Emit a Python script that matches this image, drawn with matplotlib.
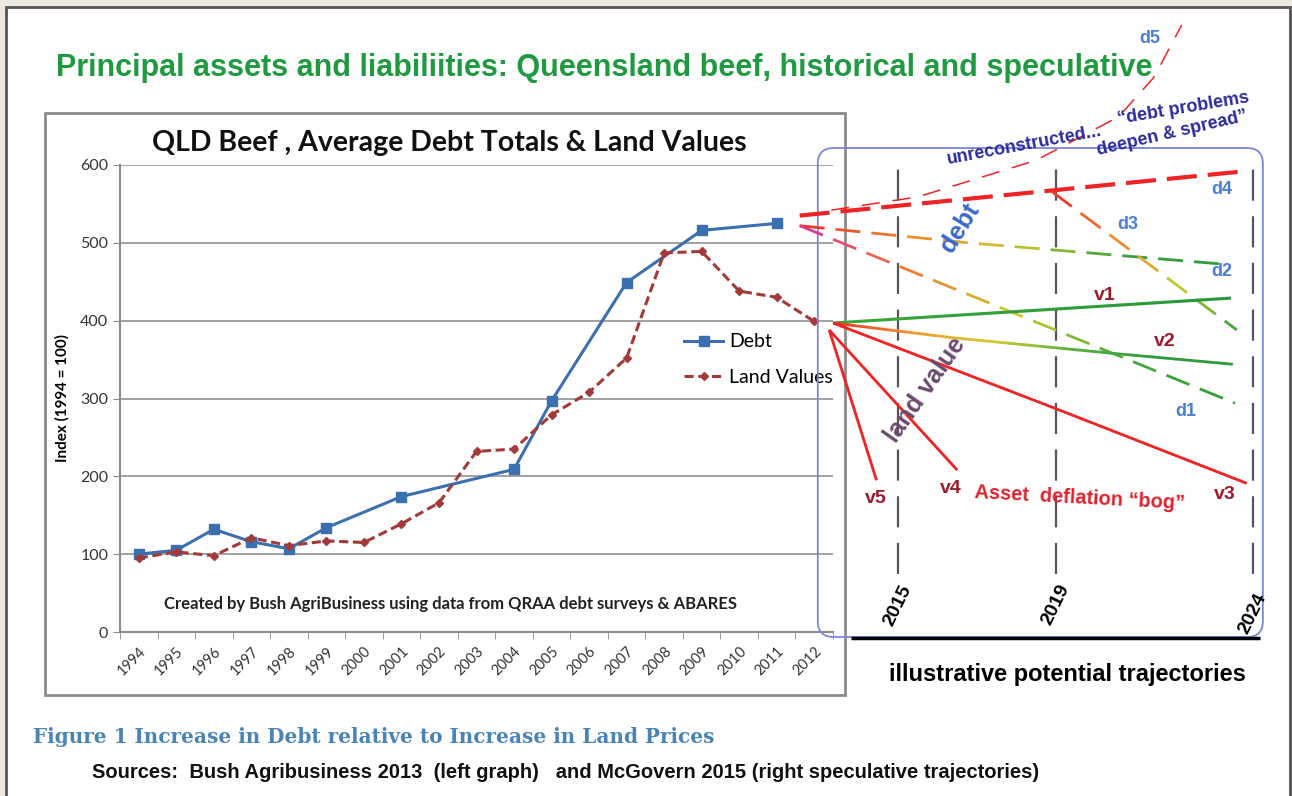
import numpy as np
import matplotlib
matplotlib.use('Agg')
from matplotlib import pyplot as plt
from matplotlib.patches import Rectangle, FancyBboxPatch
from matplotlib.collections import LineCollection
from matplotlib.colors import LinearSegmentedColormap

# historical data (index, 1994 = 100)
anios = [str(a) for a in range(1994, 2013)]
deuda_anios = [1994, 1995, 1996, 1997, 1998, 1999, 2001, 2004, 2005, 2007, 2009, 2011]
deuda = [100, 105, 132, 116, 107, 134, 174, 209, 297, 449, 516, 525]
tierra_anios = list(range(1994, 2013))
tierra = [95, 103, 98, 121, 111, 117, 115, 139, 166, 232, 235, 279, 308, 352, 487,
          489, 438, 430, 399]

# speculative trajectories (year, index)
d1 = ([2012.5, 2023.55], [522, 294])
d2 = ([2012.5, 2016.8, 2023.4], [522, 500, 472])
d3 = ([2018.9, 2023.6], [566, 388])
d4 = ([2012.5, 2023.8], [535, 592])
d5 = ([2013.3, 2015.5, 2018.5, 2020.6, 2021.5, 2022.2], [542, 559, 606, 662, 713, 780])
v1 = ([2013.35, 2023.45], [397, 429])
v2 = ([2013.35, 2016.4, 2020.45, 2023.5], [397, 378, 358, 344])
v3 = ([2013.35, 2018.9, 2023.85], [397, 289, 191])
v4 = ([2013.25, 2016.5], [388, 208])
v5 = ([2013.25, 2014.45], [388, 195])
anios_ref = [2015, 2019, 2024]

W, H = 1292, 796
def fx(px):
  return px / W
def fy(py):
  return 1 - py / H

fig = plt.figure(figsize=(W/100, H/100), dpi=100, facecolor='#ece8e0')

# white page with dark border
fig.patches.append(Rectangle((fx(6), -0.05), fx(1290) - fx(6), fy(7) + 0.05,
                             transform=fig.transFigure, facecolor='white',
                             edgecolor='#555555', lw=2, zorder=-10))
# frame of the excel chart
fig.patches.append(Rectangle((fx(45), fy(695)), fx(845) - fx(45), fy(113) - fy(695),
                             transform=fig.transFigure, facecolor='white',
                             edgecolor='#8c8c8c', lw=2, zorder=-9))

fig.text(fx(604), fy(68), 'Principal assets and liabiliities: Queensland beef, historical and speculative',
         ha='center', va='center', fontsize=22, fontweight='bold', color='#1f9a40',
         family='Liberation Sans')
fig.text(fx(449), fy(143), 'QLD Beef , Average Debt Totals & Land Values', ha='center',
         va='center', fontsize=20.5, fontweight='bold', color='#111111', family='Lato')
fig.text(fx(62), fy(398), 'Index (1994 = 100)', rotation=90, ha='center', va='center',
         fontsize=11, fontweight='bold', family='Lato')
fig.text(fx(33), fy(737), 'Figure 1 Increase in Debt relative to Increase in Land Prices',
         ha='left', va='center', fontsize=14.4, fontweight='bold', color='#4a84b6',
         family='DejaVu Serif')
fig.text(fx(92), fy(773), 'Sources:  Bush Agribusiness 2013  (left graph)   and McGovern 2015 (right speculative trajectories)',
         ha='left', va='center', fontsize=14.5, fontweight='bold', color='#111111',
         family='Liberation Sans')

# ---- left chart ----
ax = fig.add_axes([fx(120), fy(632), (833 - 120) / W, (632 - 165) / H])
ax.set_facecolor('none')
pos = {a: i for i, a in enumerate(range(1994, 2013))}
ax.plot([pos[a] for a in deuda_anios], deuda, color='#3c6fb0', lw=2.2, marker='s', ms=6.5,
        label='Debt', zorder=3)
ax.plot([pos[a] for a in tierra_anios], tierra, color='#a33a3a', lw=2.2, ls=(0, (3, 1.5)),
        marker='D', ms=4.5, label='Land Values', zorder=3)
ax.set_xlim(-0.5, len(anios) - 0.5)
ax.set_ylim(0, 600)
ax.set_yticks(range(0, 601, 100))
ax.yaxis.grid(True, color='#9a9a9a', lw=1.3)
ax.set_axisbelow(True)
ax.set_xticks(range(len(anios)))
ax.set_xticklabels(anios, rotation=45, ha='right', rotation_mode='anchor', fontsize=10.5,
                   family='Lato', color='#333333')
ax.set_xticks(np.arange(-0.5, len(anios), 1), minor=True)
ax.tick_params(axis='x', which='major', length=0, pad=9)
ax.tick_params(axis='x', which='minor', length=5, color='#8c8c8c')
ax.tick_params(axis='y', length=5, color='#8c8c8c', labelsize=11.5, labelcolor='#333333')
for t in ax.get_yticklabels():
  t.set_family('Lato')
for s in ['top', 'right']:
  ax.spines[s].set_visible(False)
for s in ['left', 'bottom']:
  ax.spines[s].set_color('#8c8c8c')
  ax.spines[s].set_linewidth(1.5)
ax.legend(loc='upper left', bbox_to_anchor=(0.767, 0.677), frameon=False,
          prop={'family': 'Lato', 'size': 14}, handlelength=2.0, handletextpad=0.3,
          labelspacing=0.95)
ax.text(0.463, 0.06, 'Created by Bush AgriBusiness using data from QRAA debt surveys & ABARES',
        transform=ax.transAxes, ha='center', va='center', fontsize=12, fontweight='bold',
        family='Lato', color='#222222')

# ---- right speculative part ----
k = 600 / 467
ax2 = fig.add_axes([fx(780), 0, (1292 - 780) / W, 1])
ax2.set_xlim(2012, 2025)
ax2.set_ylim(-(796 - 632) * k, 632 * k)
ax2.axis('off')
ax2.patch.set_alpha(0)

def linea(xs, ys, colores, lw, dash=None):
  '''Draws a polyline (optionally dashed) coloured along its length.'''
  pts = ax2.transData.transform(np.column_stack([xs, ys]))
  s = np.concatenate([[0], np.cumsum(np.hypot(*np.diff(pts, axis=0).T))])
  total = s[-1]
  if dash:
    on, off = dash
    tramos = [(a, min(a + on, total)) for a in np.arange(0, total, on + off)]
  else:
    paso = 4
    tramos = [(a, min(a + paso + 0.5, total)) for a in np.arange(0, total, paso)]
  cmap = LinearSegmentedColormap.from_list('g', colores)
  segs, cols = [], []
  for a, b in tramos:
    u = np.linspace(a, b, 6)
    p = np.column_stack([np.interp(u, s, pts[:, 0]), np.interp(u, s, pts[:, 1])])
    segs.append(ax2.transData.inverted().transform(p))
    cols.append(cmap((a + b) / 2 / total))
  ax2.add_collection(LineCollection(segs, colors=cols, linewidths=lw, capstyle='butt'))

caja = FancyBboxPatch((2012.96, -6.4), 2024.26 - 2012.96, 621.8 + 6.4,
                      boxstyle='round,pad=0,rounding_size=0.4', mutation_aspect=50.6,
                      facecolor='none', edgecolor='#7b86d8', lw=1.3)
ax2.add_patch(caja)
for a in anios_ref:
  ax2.plot([a, a], [75, 612], color='#555555', lw=1.6, ls=(0, (14, 7)))
ax2.plot([2013.8, 2024.2], [-7.7, -7.7], color='black', lw=2.5, solid_capstyle='butt')
for a, yy in zip(anios_ref, [34, 35, 24]):
  ax2.text(a, yy, str(a), rotation=64, ha='center', va='center', fontsize=14,
           fontweight='bold', family='Liberation Sans')

rojo = '#ee2424'
linea(*d5, [rojo, rojo], 1.1, dash=(18, 13))
linea(*d4, [rojo, rojo], 3, dash=(30, 11))
linea(*d2, ['#e8302a', '#f08a30', '#c8c830', '#3aa040', '#2f9a3c'], 2, dash=(25, 11))
linea(*d1, ['#e0309a', '#f07a30', '#c8cc30', '#48aa40', '#2f9a3c'], 2, dash=(25, 11))
linea(*d3, ['#e8302a', '#f08a30', '#c8c830', '#3aa040'], 2, dash=(25, 11))
linea(*v1, ['#39a83a', '#2a963a'], 2.2)
linea(*v2, ['#e8302a', '#f09a30', '#d0cc30', '#58b040', '#2f9a3c', '#2f9a3c'], 2)
linea(*v3, [rojo, rojo], 2)
linea(*v4, [rojo, rojo], 2)
linea(*v5, [rojo, rojo], 2)

azul = '#4a7fd0'
for txt, xx, yy in [('d1', 2022.31, 283), ('d2', 2023.22, 463), ('d3', 2020.84, 523),
                    ('d4', 2023.22, 568), ('d5', 2021.39, 763)]:
  ax2.text(xx, yy, txt, ha='center', va='center', fontsize=13, color=azul,
           family='Liberation Sans', fontweight='bold')
vino = '#9b1b2b'
for txt, xx, yy in [('v1', 2020.25, 432), ('v2', 2021.78, 373), ('v3', 2023.3, 177),
                    ('v4', 2016.34, 185), ('v5', 2014.44, 171)]:
  ax2.text(xx, yy, txt, ha='center', va='center', fontsize=14, color=vino,
           family='Liberation Sans', fontweight='bold')

ax2.text(2016.57, 519, 'debt', rotation=58, ha='center', va='center', fontsize=18,
         color='#3a68cc', family='Liberation Sans', fontweight='bold')
ax2.text(2015.68, 311, 'land value', rotation=55, ha='center', va='center', fontsize=18,
         color='#6a4b6e', family='Liberation Sans', fontweight='bold')
ax2.text(2019.62, 172, 'Asset  deflation \u201cbog\u201d', rotation=-3, ha='center',
         va='center', fontsize=14.4, color='#e0202a', family='Liberation Sans', fontweight='bold')
oscuro = '#2b2b9e'
ax2.text(2018.2, 626, 'unreconstructed...', rotation=10.5, ha='center', va='center',
         fontsize=13, color=oscuro, family='Liberation Sans', fontweight='bold')
ax2.text(2022.23, 672, '\u201cdebt problems', rotation=9.5, ha='center', va='center',
         fontsize=13, color=oscuro, family='Liberation Sans', fontweight='bold')
ax2.text(2021.95, 640, 'deepen & spread\u201d', rotation=13, ha='center', va='center',
         fontsize=13, color=oscuro, family='Liberation Sans', fontweight='bold')
ax2.text(2019.31, -55, 'illustrative potential trajectories', ha='center', va='center',
         fontsize=17, fontweight='bold', family='Liberation Sans')

fig.savefig('out.png', dpi=100, facecolor=fig.get_facecolor())
